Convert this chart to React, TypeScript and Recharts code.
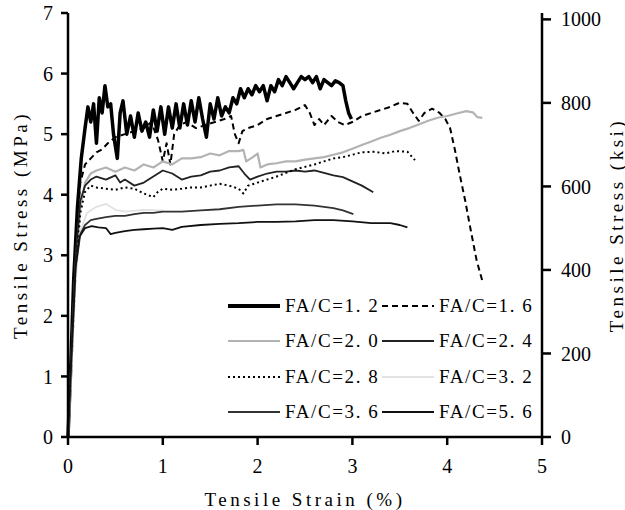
import React from "react";
import {Label, Legend, Line, LineChart, XAxis, YAxis} from "recharts";

// strain (%) , stress (MPa)
const fc12 = [
    [0, 0], [0.03, 1.2], [0.06, 2.6], [0.1, 3.8], [0.14, 4.6], [0.18, 5.1], [0.21, 5.45], [0.24, 5.2],
    [0.27, 5.5], [0.3, 4.85], [0.33, 5.6], [0.36, 5.35], [0.39, 5.8], [0.42, 5.45], [0.45, 5.5], [0.48, 5.0],
    [0.52, 4.6], [0.55, 5.35], [0.58, 5.55], [0.62, 5.0], [0.66, 5.3], [0.7, 4.95], [0.74, 5.35], [0.78, 5.05],
    [0.82, 5.2], [0.86, 4.95], [0.9, 5.4], [0.94, 5.05], [0.98, 5.45], [1.02, 5.0], [1.06, 5.45], [1.1, 5.1],
    [1.14, 5.5], [1.18, 5.1], [1.22, 5.5], [1.26, 5.15], [1.3, 5.55], [1.34, 5.2], [1.38, 5.6], [1.42, 5.25],
    [1.46, 4.95], [1.5, 5.5], [1.54, 5.25], [1.58, 5.6], [1.62, 5.3], [1.66, 5.45], [1.7, 5.35], [1.74, 5.6],
    [1.78, 5.5], [1.82, 5.75], [1.86, 5.6], [1.9, 5.75], [1.94, 5.65], [1.98, 5.8], [2.02, 5.7], [2.06, 5.8],
    [2.1, 5.55], [2.14, 5.8], [2.18, 5.7], [2.22, 5.9], [2.26, 5.8], [2.3, 5.95], [2.34, 5.85], [2.38, 5.75],
    [2.42, 5.85], [2.46, 5.95], [2.5, 5.9], [2.54, 5.95], [2.58, 5.85], [2.62, 5.95], [2.66, 5.75], [2.7, 5.9],
    [2.74, 5.85], [2.78, 5.8], [2.82, 5.88], [2.86, 5.85], [2.9, 5.8], [2.93, 5.55], [2.96, 5.35], [2.99, 5.25]
];
const fc16 = [
    [0, 0], [0.04, 1.6], [0.08, 3.2], [0.13, 4.2], [0.18, 4.5], [0.24, 4.6], [0.3, 4.7], [0.36, 4.75],
    [0.42, 4.85], [0.5, 4.95], [0.6, 5.0], [0.7, 5.05], [0.8, 5.1], [0.88, 5.2], [0.95, 4.9], [1.0, 4.55],
    [1.04, 4.85], [1.08, 4.5], [1.12, 5.0], [1.18, 5.15], [1.25, 5.2], [1.35, 5.1], [1.45, 5.15], [1.55, 5.2],
    [1.65, 5.25], [1.72, 5.3], [1.76, 5.0], [1.8, 4.85], [1.84, 5.05], [1.9, 5.1], [2.0, 5.15], [2.1, 5.25],
    [2.2, 5.3], [2.3, 5.35], [2.4, 5.4], [2.5, 5.48], [2.55, 5.35], [2.6, 5.15], [2.65, 5.25], [2.7, 5.15],
    [2.78, 5.3], [2.85, 5.2], [2.92, 5.15], [3.0, 5.2], [3.1, 5.3], [3.2, 5.35], [3.3, 5.4], [3.4, 5.45],
    [3.5, 5.52], [3.58, 5.5], [3.64, 5.35], [3.7, 5.22], [3.76, 5.35], [3.84, 5.42], [3.92, 5.35], [3.98, 5.25],
    [4.03, 5.1], [4.08, 4.75], [4.13, 4.35], [4.19, 3.9], [4.25, 3.4], [4.31, 2.92], [4.37, 2.58]
];
const fc20 = [
    [0, 0], [0.04, 1.4], [0.08, 2.8], [0.13, 3.8], [0.18, 4.2], [0.24, 4.35], [0.3, 4.4], [0.4, 4.45],
    [0.5, 4.38], [0.6, 4.45], [0.7, 4.4], [0.8, 4.5], [0.9, 4.45], [1.0, 4.55], [1.1, 4.5], [1.2, 4.6],
    [1.3, 4.6], [1.4, 4.62], [1.5, 4.68], [1.6, 4.65], [1.7, 4.72], [1.8, 4.72], [1.85, 4.74], [1.88, 4.55],
    [1.95, 4.62], [2.0, 4.68], [2.03, 4.45], [2.1, 4.5], [2.2, 4.52], [2.3, 4.55], [2.4, 4.55], [2.5, 4.58],
    [2.6, 4.6], [2.7, 4.62], [2.8, 4.66], [2.9, 4.7], [3.0, 4.76], [3.1, 4.82], [3.2, 4.88], [3.3, 4.94],
    [3.4, 4.99], [3.5, 5.05], [3.6, 5.1], [3.7, 5.16], [3.8, 5.22], [3.9, 5.27], [4.0, 5.3], [4.1, 5.34],
    [4.2, 5.38], [4.27, 5.36], [4.32, 5.28], [4.37, 5.27]
];
const fc24 = [
    [0, 0], [0.04, 1.5], [0.08, 3.0], [0.13, 3.9], [0.18, 4.15], [0.24, 4.25], [0.3, 4.3], [0.4, 4.25],
    [0.5, 4.32], [0.55, 4.2], [0.6, 4.25], [0.7, 4.15], [0.8, 4.2], [0.9, 4.3], [1.0, 4.4], [1.1, 4.35],
    [1.2, 4.25], [1.3, 4.3], [1.4, 4.32], [1.5, 4.38], [1.6, 4.4], [1.7, 4.45], [1.8, 4.47], [1.86, 4.35],
    [1.92, 4.25], [2.0, 4.3], [2.1, 4.35], [2.2, 4.38], [2.3, 4.38], [2.4, 4.4], [2.5, 4.38], [2.6, 4.4],
    [2.7, 4.36], [2.8, 4.32], [2.9, 4.29], [3.0, 4.22], [3.1, 4.15], [3.22, 4.04]
];
const fc28 = [
    [0, 0], [0.04, 1.3], [0.08, 2.7], [0.13, 3.7], [0.18, 4.05], [0.24, 4.15], [0.3, 4.12], [0.4, 4.1],
    [0.5, 4.08], [0.6, 4.12], [0.7, 4.1], [0.8, 4.02], [0.9, 3.96], [0.95, 4.05], [1.0, 4.1], [1.1, 4.08],
    [1.2, 4.1], [1.3, 4.12], [1.4, 4.12], [1.5, 4.15], [1.6, 4.18], [1.7, 4.15], [1.8, 4.1], [1.85, 4.02],
    [1.9, 4.15], [2.0, 4.2], [2.1, 4.25], [2.2, 4.3], [2.3, 4.36], [2.4, 4.42], [2.5, 4.46], [2.6, 4.5],
    [2.7, 4.55], [2.8, 4.6], [2.9, 4.62], [3.0, 4.66], [3.1, 4.7], [3.22, 4.71], [3.35, 4.68], [3.45, 4.72],
    [3.58, 4.71], [3.66, 4.57]
];
const fc32 = [
    [0, 0], [0.04, 1.2], [0.08, 2.6], [0.13, 3.4], [0.2, 3.7], [0.3, 3.8], [0.4, 3.85], [0.5, 3.75],
    [0.6, 3.72], [0.8, 3.75], [1.0, 3.74]
];
const fc36 = [
    [0, 0], [0.04, 1.4], [0.08, 2.8], [0.13, 3.35], [0.18, 3.5], [0.24, 3.58], [0.3, 3.6], [0.4, 3.63],
    [0.5, 3.65], [0.6, 3.65], [0.7, 3.68], [0.8, 3.7], [0.9, 3.7], [1.0, 3.72], [1.2, 3.72], [1.4, 3.74],
    [1.6, 3.76], [1.8, 3.8], [2.0, 3.82], [2.2, 3.84], [2.4, 3.84], [2.6, 3.82], [2.8, 3.78], [2.9, 3.74],
    [3.01, 3.68]
];
const fc56 = [
    [0, 0], [0.04, 1.5], [0.08, 2.8], [0.12, 3.3], [0.18, 3.45], [0.25, 3.48], [0.32, 3.46], [0.4, 3.45],
    [0.45, 3.35], [0.5, 3.37], [0.6, 3.4], [0.7, 3.42], [0.8, 3.43], [0.9, 3.44], [1.0, 3.45], [1.1, 3.42],
    [1.2, 3.47], [1.4, 3.5], [1.6, 3.52], [1.8, 3.53], [2.0, 3.55], [2.2, 3.55], [2.4, 3.56], [2.6, 3.58],
    [2.8, 3.58], [3.0, 3.56], [3.2, 3.53], [3.4, 3.53], [3.5, 3.5], [3.58, 3.46]
];

const strainTicks = [0, 1, 2, 3, 4, 5];
const mpaTicks = [0, 1, 2, 3, 4, 5, 6, 7];
const ksiTicks = [0, 200, 400, 600, 800, 1000];
// the right-hand scale is the same stress, 1 MPa = 145.04 units
const mpaToKsi = 145.0377;
const ksiMax = 7 * mpaToKsi;

const series = [
    {name: "FA/C=1. 2", data: fc12, stroke: "#000", width: 3.5, dash: undefined},
    {name: "FA/C=1. 6", data: fc16, stroke: "#000", width: 2, dash: "6 4"},
    {name: "FA/C=2. 0", data: fc20, stroke: "#b3b3b3", width: 2.2, dash: undefined},
    {name: "FA/C=2. 4", data: fc24, stroke: "#222", width: 1.8, dash: undefined},
    {name: "FA/C=2. 8", data: fc28, stroke: "#000", width: 2, dash: "2 3"},
    {name: "FA/C=3. 2", data: fc32, stroke: "#e2e2e2", width: 1.8, dash: undefined},
    {name: "FA/C=3. 6", data: fc36, stroke: "#333", width: 1.8, dash: undefined},
    {name: "FA/C=5. 6", data: fc56, stroke: "#111", width: 1.8, dash: undefined},
];

const serif = "'Liberation Serif', 'Times New Roman', serif";
const tickStyle = {fill: "#000", fontSize: 20, fontFamily: serif};
const titleStyle = {fill: "#000", fontSize: 19, fontFamily: serif, letterSpacing: 3.5};

const LegendBox = () => (
    <div style={{display: "grid", gridTemplateColumns: "154px 170px", fontFamily: serif, fontSize: 19}}>
        {series.map(s => (
            <div key={s.name} style={{display: "flex", alignItems: "center", height: 35.5, whiteSpace: "nowrap"}}>
                <svg width={52} height={10} style={{marginRight: 5, flex: "none"}}>
                    <line x1={0} y1={5} x2={52} y2={5} stroke={s.stroke}
                          strokeWidth={s.width === 3.5 ? 4 : s.width} strokeDasharray={s.dash}/>
                </svg>
                <span style={{letterSpacing: 1.6, color: "#000"}}>{s.name}</span>
            </div>
        ))}
    </div>
)

const App = () => {
    return (
        <div style={{position: "absolute", left: 0, top: 0, width: 625, height: 510, background: "#fff"}}>
            <LineChart width={625} height={510} margin={{top: 13, right: 0, bottom: 0, left: 0}}>
                <XAxis xAxisId="strain" type="number" dataKey="x" domain={[0, 5]} ticks={strainTicks}
                       height={73} tick={tickStyle} tickSize={8} tickMargin={14}
                       axisLine={{stroke: "#000", strokeWidth: 2.5}} tickLine={{stroke: "#000", strokeWidth: 2.5}}>
                    <Label content={({viewBox}: any) => (
                        <text x={viewBox.x + viewBox.width / 2} y={viewBox.y + viewBox.height - 4}
                              textAnchor="middle" {...titleStyle}>Tensile Strain (%)</text>
                    )}/>
                </XAxis>
                <XAxis xAxisId="top" orientation="top" type="number" domain={[0, 5]} height={0}
                       tick={false} tickLine={false} axisLine={{stroke: "#000", strokeWidth: 2.5}}/>
                <YAxis yAxisId="mpa" type="number" domain={[0, 7]} ticks={mpaTicks} width={68}
                       tick={tickStyle} tickSize={7} tickMargin={8}
                       axisLine={{stroke: "#000", strokeWidth: 2.5}} tickLine={{stroke: "#000", strokeWidth: 2.5}}>
                    <Label content={({viewBox}: any) => {
                        const cx = 20, cy = viewBox.y + viewBox.height / 2
                        return <text x={cx} y={cy} transform={`rotate(-90 ${cx} ${cy})`} textAnchor="middle"
                                     dominantBaseline="central" {...titleStyle}>Tensile Stress (MPa)</text>
                    }}/>
                </YAxis>
                <YAxis yAxisId="ksi" orientation="right" type="number" domain={[0, ksiMax]} allowDataOverflow
                       ticks={ksiTicks} width={83} tick={tickStyle} tickSize={9} tickMargin={10}
                       axisLine={{stroke: "#000", strokeWidth: 2.5}} tickLine={{stroke: "#000", strokeWidth: 2.5}}>
                    <Label content={({viewBox}: any) => {
                        const cx = 616, cy = viewBox.y + viewBox.height / 2
                        return <text x={cx} y={cy} transform={`rotate(-90 ${cx} ${cy})`} textAnchor="middle"
                                     dominantBaseline="central" {...titleStyle}>Tensile Stress (ksi)</text>
                    }}/>
                </YAxis>
                <Legend layout="vertical" align="center" verticalAlign="middle" content={() => <LegendBox/>}
                        wrapperStyle={{left: 228, top: 288, width: 340, height: 142}}/>
                {/* same curve on the right-hand scale, kept invisible so that axis gets its ticks */}
                <Line xAxisId="strain" yAxisId="ksi" type="linear" legendType="none"
                      data={fc12.map(([x, y]) => ({x, y: y * mpaToKsi}))} dataKey="y"
                      stroke="none" dot={false} activeDot={false} isAnimationActive={false}/>
                {series.map(s => (
                    <Line key={s.name} xAxisId="strain" yAxisId="mpa" name={s.name} type="linear"
                          data={s.data.map(([x, y]) => ({x, y}))} dataKey="y"
                          stroke={s.stroke} strokeWidth={s.width} strokeDasharray={s.dash}
                          strokeLinejoin="round" dot={false} activeDot={false} isAnimationActive={false}/>
                ))}
            </LineChart>
        </div>
    )
}

export default App
